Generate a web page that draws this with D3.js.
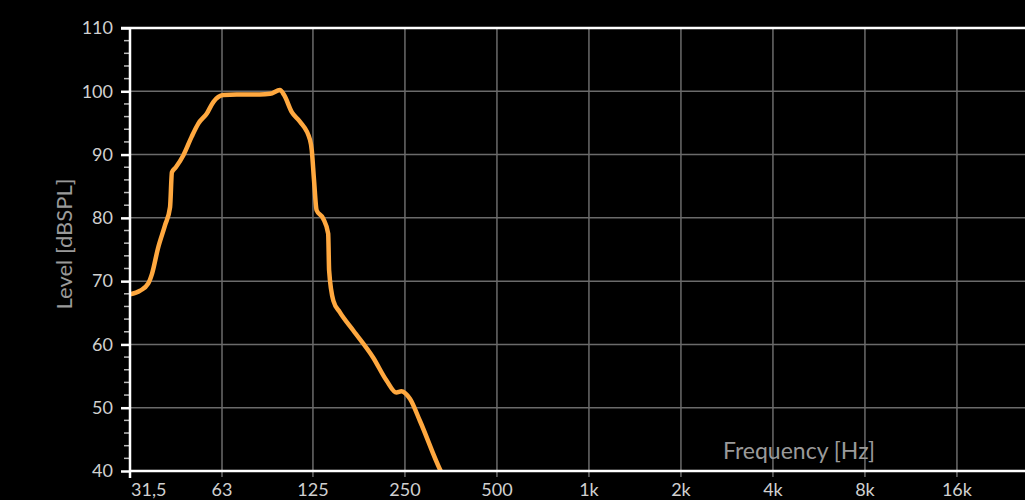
<!DOCTYPE html>
<meta charset="utf-8">
<head>
    <script src="https://d3js.org/d3.v7.min.js"></script>
    <style>
        body { margin: 0; background: #000; overflow: hidden; }
        svg { display: block; font-family: Lato, "Open Sans", sans-serif; }
    </style>
</head>
<body>
<div id="chart"></div>
<script>
    // response curve
    const freqs  = [31.5, 34, 36.1, 37.2, 38.9, 41.0, 42.6, 43.2, 44.5, 47.1, 50.1, 52.7, 56.2, 59.0, 63.6, 70.4, 83.8, 90.5, 97.5, 100.6, 106.6, 113.4, 122.3, 123.9, 126, 128.5, 135, 140.2, 141.2, 145.8, 153, 169.4, 196.9, 217.6, 234.4, 243.4, 259.6, 280, 329.6, 340]
    const levels = [67.9, 68.5, 69.6, 71.2, 75.2, 78.8, 81.7, 87.2, 88.0, 89.9, 92.8, 94.9, 96.5, 98.3, 99.4, 99.5, 99.5, 99.6, 100.2, 99.4, 96.7, 95.2, 92.3, 90.7, 86.0, 81.2, 79.9, 77.5, 71.7, 66.9, 65.1, 62.2, 57.9, 54.3, 52.4, 52.6, 51.4, 47.9, 39.7, 38.5]

    const freqTicks  = [31.5, 63, 125, 250, 500, 1000, 2000, 4000, 8000, 16000]
    const freqLabels = ["31,5", "63", "125", "250", "500", "1k", "2k", "4k", "8k", "16k"]
    const levelTicks = [40, 50, 60, 70, 80, 90, 100, 110]

    const width = 1025, height = 500
    const svg = d3.select("#chart").append("svg")
        .attr("width", width)
        .attr("height", height)

    const x = d3.scaleLog()
        .base(2)
        .domain([31.5, 31.5 * 1024])
        .range([130, 1050])

    const y = d3.scaleLinear()
        .domain([40, 110])
        .range([471, 28])

    svg.append("defs").append("clipPath").attr("id", "plot")
        .append("rect")
        .attr("x", 130).attr("y", 28)
        .attr("width", 920).attr("height", 443)

    // grid
    const grid = svg.append("g").attr("stroke", "#6b6b6b").attr("stroke-width", 1.5)
    grid.selectAll(".v")
        .data(freqTicks.slice(1))
        .join("line")
        .attr("x1", d => x(d)).attr("x2", d => x(d))
        .attr("y1", y(110)).attr("y2", y(40) + 6)
    grid.selectAll(".h")
        .data(levelTicks.slice(1, -1))
        .join("line")
        .attr("x1", x(31.5)).attr("x2", width)
        .attr("y1", d => y(d)).attr("y2", d => y(d))

    // curve
    svg.append("path")
        .datum(freqs.map((f, i) => [f, levels[i]]))
        .attr("clip-path", "url(#plot)")
        .attr("fill", "none")
        .attr("stroke", "#ffa83f")
        .attr("stroke-width", 4.5)
        .attr("stroke-linejoin", "round")
        .attr("d", d3.line()
            .x(d => x(d[0]))
            .y(d => y(d[1]))
            .curve(d3.curveMonotoneX))

    // frame lines
    svg.append("line")
        .attr("x1", x(31.5) - 9).attr("x2", width)
        .attr("y1", y(110)).attr("y2", y(110))
        .attr("stroke", "#fff").attr("stroke-width", 2.5)
    svg.append("line")
        .attr("x1", x(31.5)).attr("x2", width)
        .attr("y1", y(40)).attr("y2", y(40))
        .attr("stroke", "#fff").attr("stroke-width", 2.5)

    // left axis
    const leftAxis = d3.axisLeft(y)
        .tickValues(levelTicks)
        .tickSize(9)
        .tickPadding(8)
    const ly = svg.append("g")
        .attr("transform", `translate(${x(31.5)},0)`)
        .call(leftAxis)
    ly.select(".domain").remove()
    ly.selectAll(".tick line").attr("stroke", "#fff").attr("stroke-width", 2.5)
    ly.selectAll(".tick text").attr("fill", "#d0d0d0")
        .style("font-size", "18px").style("font-family", "Lato, sans-serif")

    const minor = d3.range(40, 110, 2).filter(d => d % 10 !== 0)
    svg.append("g").selectAll("line")
        .data(minor)
        .join("line")
        .attr("x1", x(31.5) - 6).attr("x2", x(31.5))
        .attr("y1", d => y(d)).attr("y2", d => y(d))
        .attr("stroke", "#bbb").attr("stroke-width", 1.5)

    svg.append("line")
        .attr("x1", x(31.5)).attr("x2", x(31.5))
        .attr("y1", y(110) - 1).attr("y2", y(40) + 7)
        .attr("stroke", "#fff").attr("stroke-width", 2.5)

    // bottom labels
    svg.append("g").selectAll("text")
        .data(freqTicks)
        .join("text")
        .attr("x", (d, i) => i === 0 ? x(d) + 1 : x(d))
        .attr("y", 496)
        .attr("text-anchor", (d, i) => i === 0 ? "start" : "middle")
        .attr("fill", "#d0d0d0")
        .style("font-size", "18px")
        .text((d, i) => freqLabels[i])

    // axis titles
    svg.append("text")
        .attr("x", 799)
        .attr("y", 459)
        .attr("text-anchor", "middle")
        .attr("fill", "#9a9a9a")
        .attr("font-size", 23)
        .text("Frequency [Hz]")

    svg.append("text")
        .attr("transform", "translate(72, 244) rotate(-90)")
        .attr("text-anchor", "middle")
        .attr("fill", "#9a9a9a")
        .attr("font-size", 22)
        .text("Level [dBSPL]")
</script>
</body>
